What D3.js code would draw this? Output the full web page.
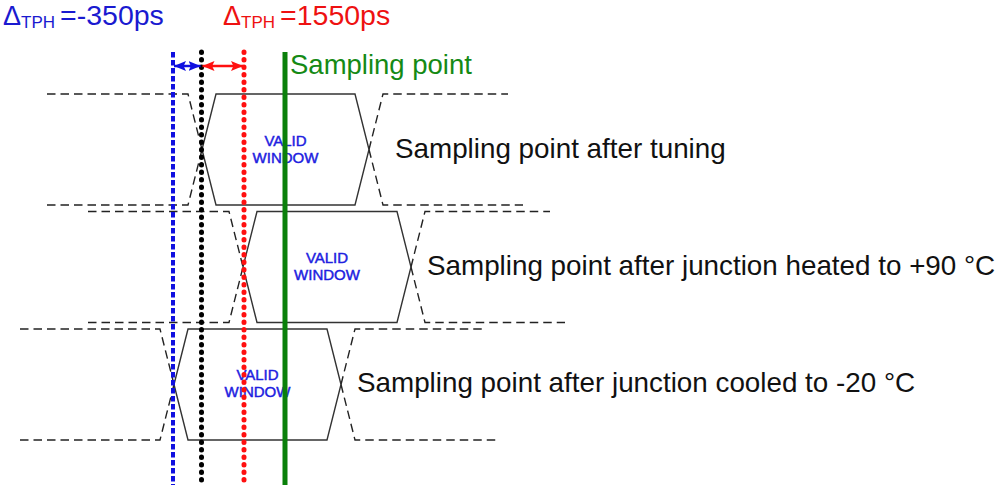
<!DOCTYPE html>
<html>
<head>
<meta charset="utf-8">
<script src="https://cdn.jsdelivr.net/npm/d3@7"></script>
<style>
  html, body { margin: 0; padding: 0; background: #fff; }
  svg { display: block; font-family: "Liberation Sans", Arial, sans-serif; }
</style>
</head>
<body>
<svg id="chart" width="996" height="485"></svg>
<script>
// ---- data (time in arbitrary diagram units) ----
const rowLabels = [
  "Sampling point after tuning",
  "Sampling point after junction heated to +90 °C",
  "Sampling point after junction cooled to -20 °C"
];
const leadStart   = [47, 88, 20];     // start of preceding (invalid) data
const edgeRise    = [188, 229, 160];  // start of opening transition
const edgeFall    = [355, 397, 327];  // start of closing transition
const transWidth  = [28, 28, 28];     // transition duration
const tailEndHigh = [508, 550, 482];  // end of following data (high rail)
const tailEndLow  = [523, 565, 497];  // end of following data (low rail)
const windowText  = ["VALID", "WINDOW"];

const markerTimes  = [173, 201.5, 244];        // -20°C edge, tuned edge, +90°C edge
const markerColors = ["#1010e0", "#000000", "#ff1010"];
const samplingTime = 285;
const samplingLabel = "Sampling point";

const deltaSymbol = "Δ";
const deltaSub = "TPH";
const deltaValues = ["=-350ps", "=1550ps"];
const deltaColors = ["#1a1ad0", "#ee1111"];

// ---- layout ----
const svg = d3.select("#chart");
const x = d3.scaleLinear().domain([0, 996]).range([0, 996]);
const y = d3.scaleBand().domain(d3.range(rowLabels.length)).range([94, 440]).paddingInner(0.055).paddingOuter(0);
const labelOffset = [12, 2, 2];
const line = d3.line().x(d => x(d[0])).y(d => d[1]);

const rows = rowLabels.map((lab, i) => {
  const top = y(i), bot = y(i) + y.bandwidth(), mid = (top + bot) / 2;
  const w = transWidth[i];
  return { i, lab, top, bot, mid, w,
    xA: edgeRise[i] + w / 2, xB: edgeFall[i] + w / 2 };
});

const wave = svg.append("g");
rows.forEach(r => {
  const i = r.i;
  const dashed = [
    [[leadStart[i], r.top], [edgeRise[i], r.top], [r.xA, r.mid]],
    [[leadStart[i], r.bot], [edgeRise[i], r.bot], [r.xA, r.mid]],
    [[r.xB, r.mid], [edgeFall[i] + r.w, r.top], [tailEndHigh[i], r.top]],
    [[r.xB, r.mid], [edgeFall[i] + r.w, r.bot], [tailEndLow[i], r.bot]]
  ];
  wave.selectAll(null).data(dashed).enter().append("path")
    .attr("d", line).attr("fill", "none")
    .attr("stroke", "#222").attr("stroke-width", 1.4)
    .attr("stroke-dasharray", "8.5 5");
  const solid = [[r.xA, r.mid], [edgeRise[i] + r.w, r.top], [edgeFall[i], r.top],
                 [r.xB, r.mid], [edgeFall[i], r.bot], [edgeRise[i] + r.w, r.bot], [r.xA, r.mid]];
  wave.append("path").attr("d", line(solid)).attr("fill", "none")
    .attr("stroke", "#333").attr("stroke-width", 1.4);

  const cx = x((r.xA + r.xB) / 2);
  wave.selectAll(null).data(windowText).enter().append("text")
    .attr("x", cx).attr("y", (d, k) => r.mid + (k === 0 ? -4 : 13))
    .attr("text-anchor", "middle").attr("font-size", 15)
    .attr("fill", "#2020e0").attr("stroke", "#2020e0").attr("stroke-width", 0.45)
    .text(d => d);

  wave.append("text")
    .attr("x", x(edgeFall[i] + r.w + labelOffset[i])).attr("y", r.mid + 8)
    .attr("font-size", 27.8).attr("fill", "#111").text(r.lab);
});

// ---- vertical markers ----
const vTop = 52, vBot = 485;
const mk = svg.append("g");
mk.selectAll(null).data(markerTimes).enter().append("line")
  .attr("x1", d => x(d)).attr("x2", d => x(d))
  .attr("y1", vTop).attr("y2", vBot)
  .attr("stroke", (d, k) => markerColors[k])
  .attr("stroke-width", (d, k) => k === 0 ? 4 : 5)
  .attr("stroke-linecap", (d, k) => k === 0 ? "butt" : "round")
  .attr("stroke-dasharray", (d, k) => k === 0 ? "5.5 2.5" : "0.5 7");

mk.append("line")
  .attr("x1", x(samplingTime)).attr("x2", x(samplingTime))
  .attr("y1", vTop).attr("y2", vBot)
  .attr("stroke", "#0a800a").attr("stroke-width", 5);

svg.append("text").attr("x", x(samplingTime) + 5).attr("y", 74)
  .attr("font-size", 27.5).attr("fill", "#158a15").text(samplingLabel);

// ---- double arrows ----
const defs = svg.append("defs");
[["blue", markerColors[0]], ["red", markerColors[2]]].forEach(([id, c]) => {
  defs.append("marker").attr("id", "ah-" + id)
    .attr("viewBox", "0 0 10 10").attr("refX", 10).attr("refY", 5)
    .attr("markerWidth", 12).attr("markerHeight", 10)
    .attr("preserveAspectRatio", "none")
    .attr("markerUnits", "userSpaceOnUse").attr("orient", "auto-start-reverse")
    .append("path").attr("d", "M0,0 L10,5 L0,10 L2,5 Z").attr("fill", c);
});
const arrowY = 66;
const arrows = [[markerTimes[0], markerTimes[1], "blue", markerColors[0]],
                [markerTimes[1], markerTimes[2], "red", markerColors[2]]];
svg.selectAll(null).data(arrows).enter().append("line")
  .attr("x1", d => x(d[0]) + 1).attr("x2", d => x(d[1]) - 1)
  .attr("y1", arrowY).attr("y2", arrowY)
  .attr("stroke", d => d[3]).attr("stroke-width", 2.5)
  .attr("marker-start", d => `url(#ah-${d[2]})`)
  .attr("marker-end", d => `url(#ah-${d[2]})`);

// ---- delta labels ----
const deltaX = [3, 223];
deltaValues.forEach((v, k) => {
  const t = svg.append("text").attr("x", deltaX[k]).attr("y", 25)
    .attr("fill", deltaColors[k]).attr("font-size", 27);
  t.append("tspan").text(deltaSymbol);
  t.append("tspan").attr("font-size", 17).attr("dy", 3).text(deltaSub);
  t.append("tspan").attr("dy", -3).attr("dx", 5).attr("font-size", 28.5).text(v);
});
</script>
</body>
</html>
